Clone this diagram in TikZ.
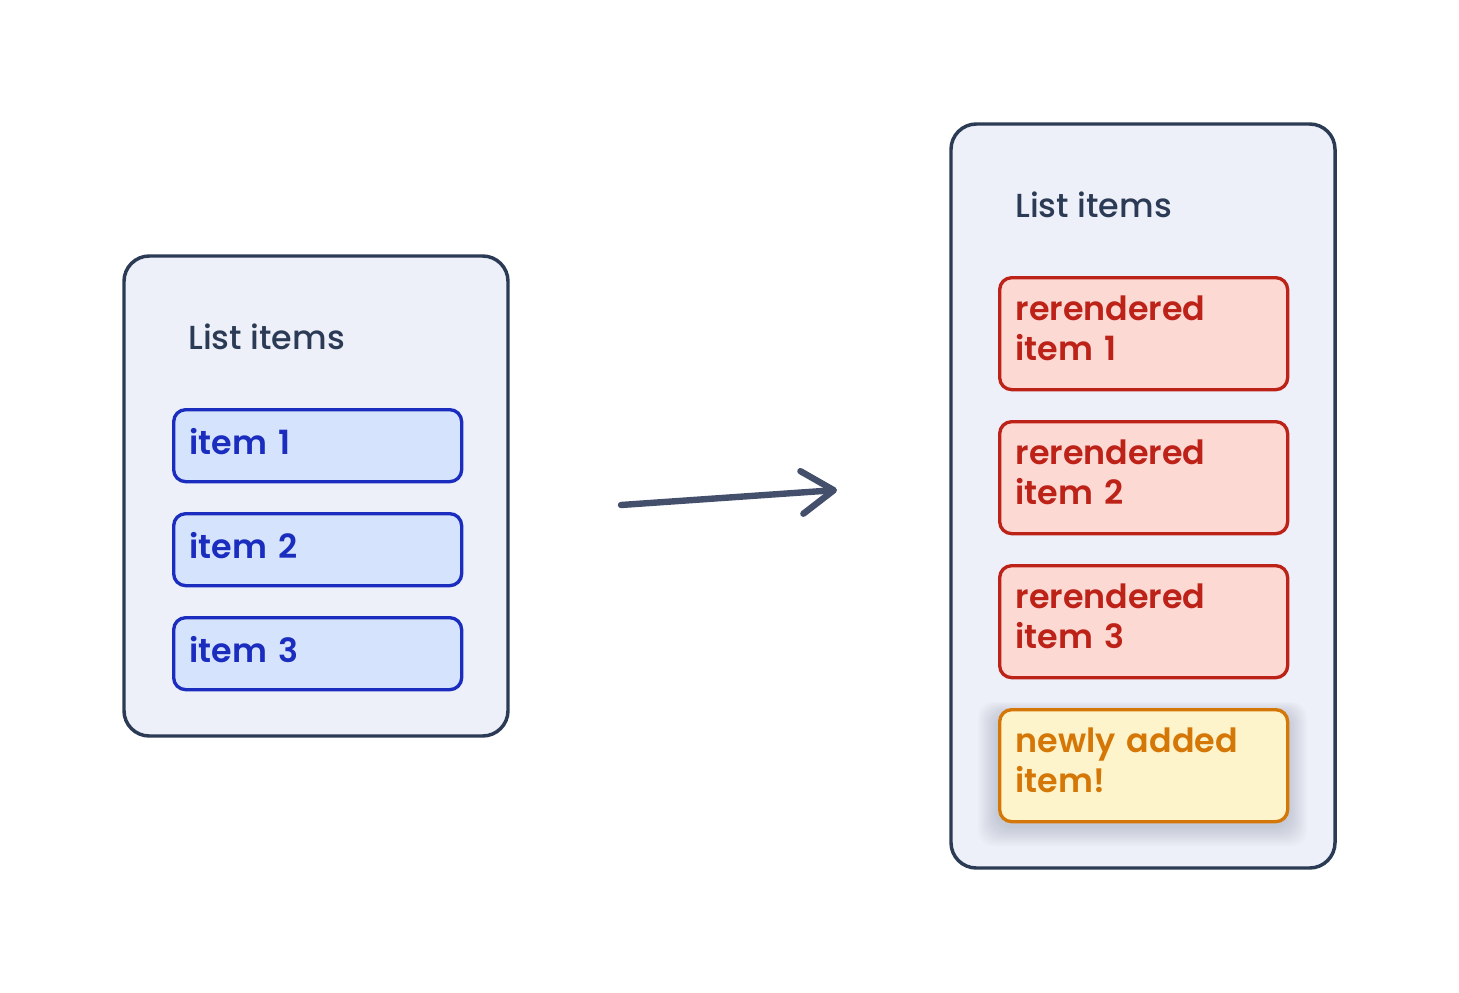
\documentclass[tikz,border=0pt]{standalone}
\usepackage{fontspec}
\setmainfont{Poppins}
\newfontfamily\semifont{Poppins SemiBold}
\newfontfamily\medfont{Poppins Medium}
\usetikzlibrary{arrows.meta}
\definecolor{frame}{HTML}{2B3A55}
\definecolor{panelfill}{HTML}{EDF0F8}
\definecolor{bluedraw}{HTML}{1A2DBF}
\definecolor{bluefill}{HTML}{D6E3FC}
\definecolor{reddraw}{HTML}{BD2219}
\definecolor{redfill}{HTML}{FDD9D3}
\definecolor{yellowdraw}{HTML}{D57706}
\definecolor{yellowfill}{HTML}{FEF4CC}
\definecolor{arrowcol}{HTML}{434F6B}
\tikzset{
  panel/.style={draw=frame,fill=panelfill,line width=2.6pt,rounded corners=19pt},
  heading/.style={text=frame,anchor=base west,inner sep=0pt,font=\fontsize{25}{30}\selectfont\medfont},
  entry/.style={line width=2.5pt,rounded corners=9pt,anchor=north west,minimum width=216pt,
    text width=192pt,align=left,inner xsep=12pt,font=\fontsize{25}{30}\selectfont\semifont},
  olditem/.style={entry,draw=bluedraw,fill=bluefill,text=bluedraw,minimum height=54pt,text depth=7pt},
  redoneitem/.style={entry,draw=reddraw,fill=redfill,text=reddraw,minimum height=84pt,text depth=38.5pt},
  newitem/.style={entry,draw=yellowdraw,fill=yellowfill,text=yellowdraw,minimum height=84pt,text depth=38.5pt}
}
\begin{document}
\begin{tikzpicture}[x=0.75pt,y=-0.75pt]
\useasboundingbox (0,0) rectangle (1459,992);
\draw[panel] (124,256) rectangle (508,736);
\node[heading] (lefthead) at (188,349) {List items};
\node[olditem] (old1) at (172,408) {item 1};
\node[olditem] (old2) at (172,512) {item 2};
\node[olditem] (old3) at (172,616) {item 3};
\draw[panel] (951,124) rectangle (1335,868);
\node[heading] (righthead) at (1015,217) {List items};
\node[redoneitem] (new1) at (998,276) {rerendered\\item 1};
\node[redoneitem] (new2) at (998,420) {rerendered\\item 2};
\node[redoneitem] (new3) at (998,564) {rerendered\\item 3};
\foreach \s in {2,4,...,20}
  \fill[frame,opacity=0.018,rounded corners=12pt] (998-\s,714-\s*0.6) rectangle (1287+\s,826+\s);
\node[newitem] (added) at (998,708) {newly added\\item!};
\coordinate (from) at (621,505);
\coordinate (to) at (837,490);
\draw[arrowcol,line width=4.8pt,line cap=round,-{Straight Barb[length=24pt,width=32pt,round]}] (from) -- (to);
\end{tikzpicture}
\end{document}
